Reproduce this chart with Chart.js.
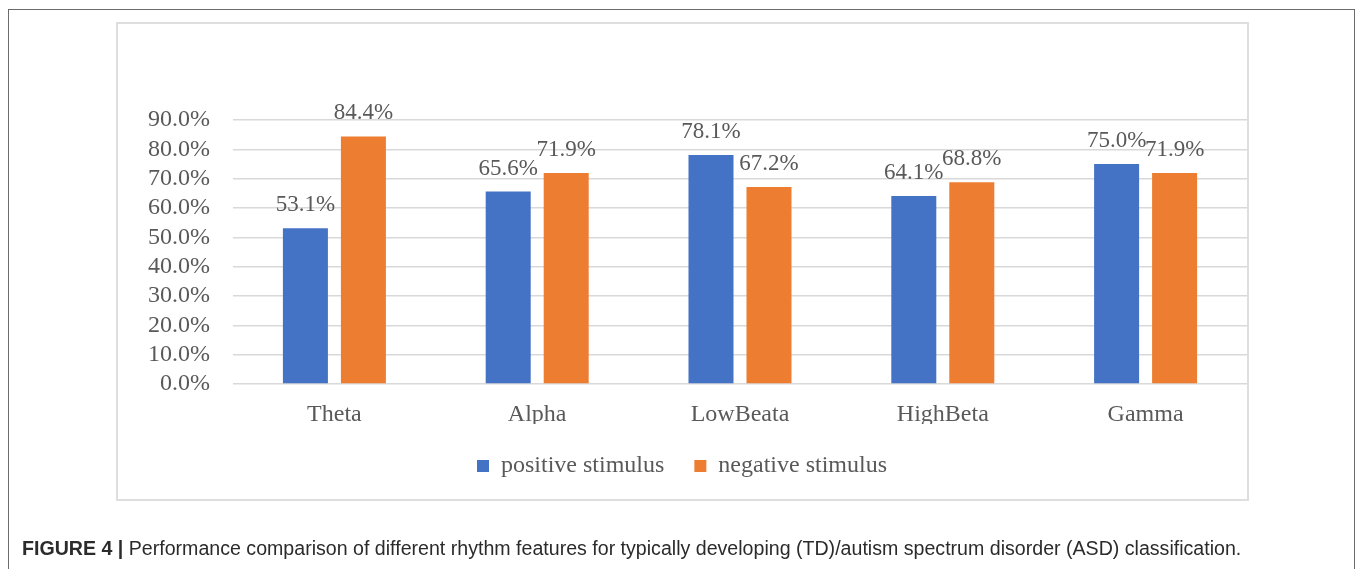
<!DOCTYPE html>
<html lang="en">
<head>
  <meta charset="UTF-8">
  <title>Figure 4 - rhythm features</title>
  <script src="https://cdn.jsdelivr.net/npm/chart.js"></script>
  <style>
    body {
      margin: 0;
      width: 1357px;
      height: 569px;
      background: #fff;
      position: relative;
      overflow: hidden;
    }
    .frame {
      position: absolute;
      left: 8px;
      top: 9px;
      width: 1347px;
      height: 580px;
      border: 1.5px solid #6b6b6b;
      border-bottom: none;
      box-sizing: border-box;
    }
    .chart-box {
      position: absolute;
      left: 116px;
      top: 22px;
      width: 1133px;
      height: 479px;
      border: 2px solid #dedede;
      box-sizing: border-box;
    }
    .caption {
      position: absolute;
      left: 22px;
      top: 537px;
      font-family: 'Liberation Sans', Arial, sans-serif;
      font-size: 19.6px;
      color: #2b2b2b;
      white-space: nowrap;
    }
    .caption b { font-weight: bold; }
    canvas {
      position: absolute;
      left: 0;
      top: 0;
    }
  </style>
</head>
<body>

<div class="frame"></div>
<div class="chart-box"></div>
<canvas id="chartRythme" width="1357" height="569"></canvas>
<div class="caption"><b>FIGURE 4 |</b> Performance comparison of different rhythm features for typically developing (TD)/autism spectrum disorder (ASD) classification.</div>

<script>
  // donnees
  const bandes = ['Theta', 'Alpha', 'LowBeata', 'HighBeta', 'Gamma'];
  const positif = [53.1, 65.6, 78.1, 64.1, 75.0];
  const negatif = [84.4, 71.9, 67.2, 68.8, 71.9];
  const graduations = [0, 10, 20, 30, 40, 50, 60, 70, 80, 90];

  const gris = '#595959';
  const serif = "'Liberation Serif', 'Times New Roman', serif";

  // etiquettes au-dessus des barres
  const etiquettes = {
    id: 'etiquettes',
    afterDatasetsDraw(chart) {
      const ctx = chart.ctx;
      ctx.save();
      ctx.font = '23px ' + serif;
      ctx.fillStyle = gris;
      ctx.textAlign = 'center';
      ctx.textBaseline = 'alphabetic';
      chart.data.datasets.forEach((ds, i) => {
        chart.getDatasetMeta(i).data.forEach((bar, j) => {
          ctx.fillText(ds.data[j].toFixed(1) + '%', bar.x, bar.y - 17);
        });
      });
      ctx.restore();
    }
  };

  new Chart(document.getElementById('chartRythme'), {
    type: 'bar',
    data: {
      labels: bandes,
      datasets: [
        {
          label: 'positive stimulus',
          data: positif,
          backgroundColor: '#4472C4',
          categoryPercentage: 0.572,
          barPercentage: 0.776
        },
        {
          label: 'negative stimulus',
          data: negatif,
          backgroundColor: '#ED7D31',
          categoryPercentage: 0.572,
          barPercentage: 0.776
        }
      ]
    },
    options: {
      responsive: false,
      animation: false,
      layout: {
        padding: { left: 117, right: 110, top: 120, bottom: 81 }
      },
      plugins: {
        tooltip: { enabled: false },
        legend: {
          position: 'bottom',
          labels: {
            color: gris,
            font: { family: serif, size: 24 },
            boxWidth: 12,
            boxHeight: 12,
            padding: 30
          }
        }
      },
      scales: {
        x: {
          grid: { display: false },
          border: { display: false },
          ticks: {
            color: gris,
            font: { family: serif, size: 24 },
            padding: 8
          },
          afterFit(scale) { scale.height = 40; }
        },
        y: {
          min: 0,
          max: 90,
          afterBuildTicks(scale) {
            scale.ticks = graduations.map(v => ({ value: v }));
          },
          grid: { color: '#d9d9d9', lineWidth: 1.5, drawTicks: false },
          border: { display: false },
          ticks: {
            color: gris,
            font: { family: serif, size: 24 },
            padding: 23,
            autoSkip: false,
            callback: v => v.toFixed(1) + '%'
          },
          afterFit(scale) { scale.width = 116; }
        }
      }
    },
    plugins: [etiquettes]
  });
</script>

</body>
</html>
